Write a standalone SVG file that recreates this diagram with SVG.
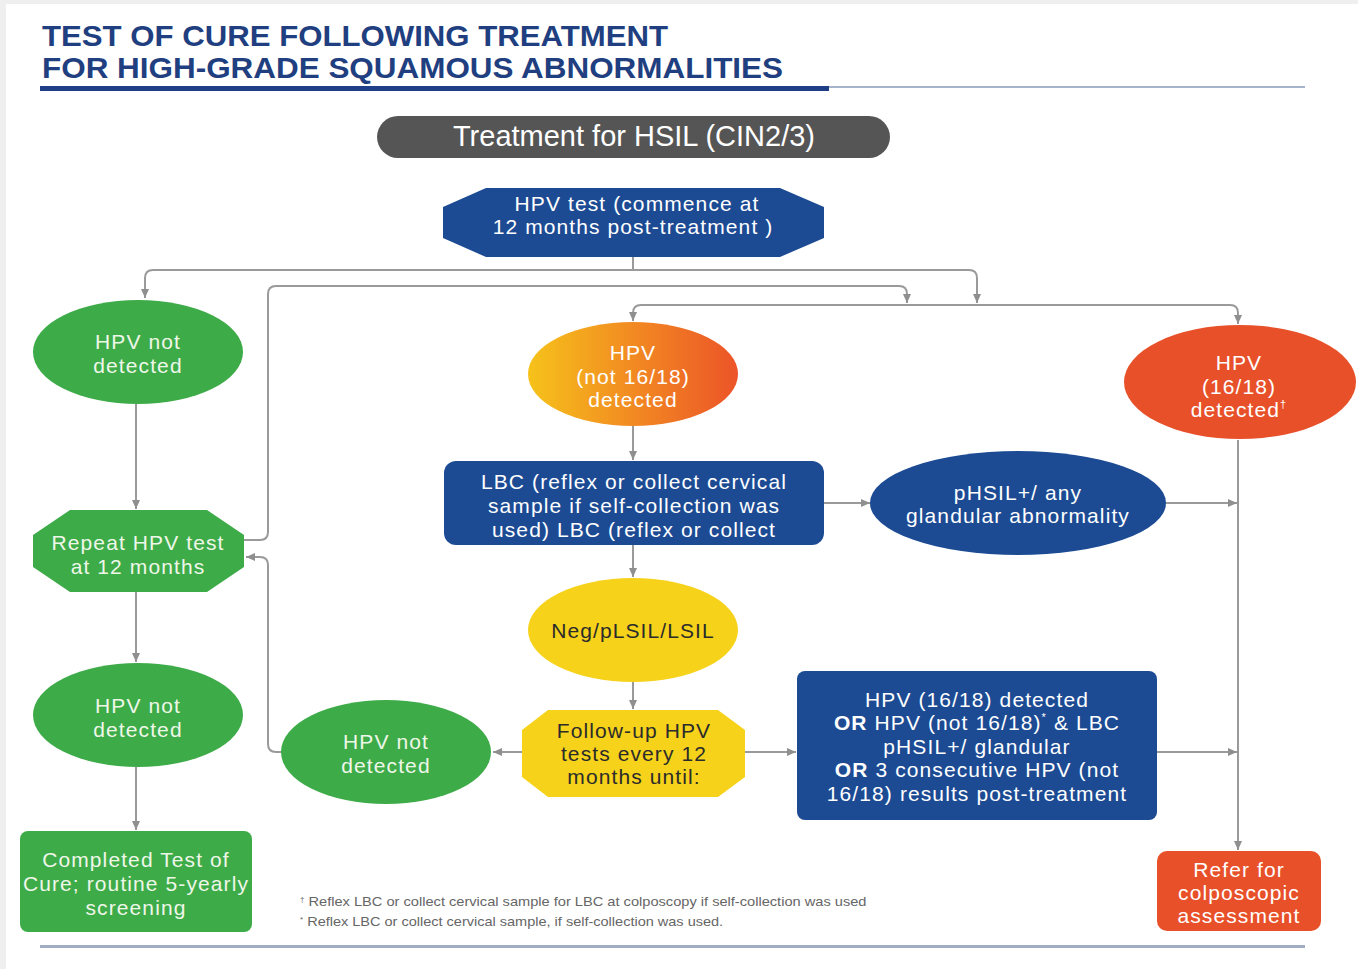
<svg xmlns="http://www.w3.org/2000/svg" width="1358" height="969" viewBox="0 0 1358 969">
<defs>
<marker id="arr" markerUnits="userSpaceOnUse" markerWidth="10" markerHeight="10" refX="9" refY="5" orient="auto">
<path d="M0,1 L9,5 L0,9 z" fill="#8f8f8f"/>
</marker>
<linearGradient id="og" x1="0" y1="0" x2="1" y2="0">
<stop offset="0" stop-color="#f6c21a"/>
<stop offset="0.5" stop-color="#f28a22"/>
<stop offset="1" stop-color="#ec5428"/>
</linearGradient>
<style>
text{font-family:"Liberation Sans",Arial,sans-serif;text-anchor:middle}
.w,.g,.d{font-size:21px;letter-spacing:1.1px}
.w{fill:#ffffff}
.g{fill:#eef7e8}
.d{fill:#2b2b2b}
.blue{fill:#1c4b94}
.green{fill:#3eab49}
.red{fill:#e8502a}
.yel{fill:#f6d21a}
.c{fill:none;stroke:#9a9a9a;stroke-width:2;marker-end:url(#arr)}
.cn{fill:none;stroke:#9a9a9a;stroke-width:2}
.fn{font-size:13px;fill:#666;text-anchor:start}
.t{text-anchor:start;font-size:30px;font-weight:bold;fill:#1f3f80}
</style>
</defs>
<rect x="0" y="0" width="1358" height="969" fill="#efefef"/>
<rect x="6" y="4" width="1352" height="965" fill="#ffffff"/>

<g id="title">
<text class="t" x="42" y="46" textLength="626" lengthAdjust="spacingAndGlyphs">TEST OF CURE FOLLOWING TREATMENT</text>
<text class="t" x="42" y="78" textLength="741" lengthAdjust="spacingAndGlyphs">FOR HIGH-GRADE SQUAMOUS ABNORMALITIES</text>
<rect x="40" y="86" width="789" height="5" fill="#1e3f86"/>
<rect x="829" y="86" width="476" height="2" fill="#a6b4c9"/>
</g>

<g id="connectors">
<path class="cn" d="M633,257 V270"/>
<path class="c" d="M633,270 H153 Q145,270 145,278 V298"/>
<path class="c" d="M633,270 H969 Q977,270 977,278 V303"/>
<path class="c" d="M244,540 H260 Q268,540 268,532 V294 Q268,286 276,286 H899 Q907,286 907,294 V303"/>
<path class="c" d="M1000,305 H641 Q633,305 633,313 V321"/>
<path class="c" d="M1000,305 H1230 Q1238,305 1238,313 V324"/>
<path class="c" d="M136,404 V509"/>
<path class="c" d="M136,592 V662"/>
<path class="c" d="M136,767 V830"/>
<path class="c" d="M633,426 V460"/>
<path class="c" d="M824,503 H870"/>
<path class="c" d="M1166,503 H1237"/>
<path class="c" d="M1238,440 V850"/>
<path class="c" d="M633,545 V577"/>
<path class="c" d="M633,682 V709"/>
<path class="c" d="M522,752 H493"/>
<path class="c" d="M745,752 H796"/>
<path class="c" d="M1157,752 H1237"/>
<path class="c" d="M281,752 H276 Q268,752 268,744 V565 Q268,557 260,557 H246"/>
</g>

<g id="treatment">
<rect x="377" y="116" width="513" height="42" rx="21" fill="#555555"/>
<text x="634" y="146" style="fill:#ffffff;font-size:29px">Treatment for HSIL (CIN2/3)</text>
</g>

<g id="hpvtest">
<polygon class="blue" points="486,188 780,188 824,207 824,238 780,257 486,257 443,238 443,207"/>
<text class="w" x="637" y="211">HPV test (commence at</text>
<text class="w" x="633" y="234">12 months post-treatment )</text>
</g>

<g id="notdet1">
<ellipse class="green" cx="138" cy="352" rx="105" ry="52"/>
<text class="g" x="138" y="349">HPV not</text>
<text class="g" x="138" y="373">detected</text>
</g>

<g id="repeat">
<polygon class="green" points="70,510 207,510 244,535 244,567 207,592 70,592 33,567 33,535"/>
<text class="g" x="138" y="550">Repeat HPV test</text>
<text class="g" x="138" y="574">at 12 months</text>
</g>

<g id="notdet2">
<ellipse class="green" cx="138" cy="715" rx="105" ry="52"/>
<text class="g" x="138" y="713">HPV not</text>
<text class="g" x="138" y="737">detected</text>
</g>

<g id="completed">
<rect class="green" x="20" y="831" width="232" height="101" rx="8"/>
<text class="g" x="136" y="867">Completed Test of</text>
<text class="g" x="136" y="891">Cure; routine 5-yearly</text>
<text class="g" x="136" y="915">screening</text>
</g>

<g id="hpvnot1618">
<ellipse cx="633" cy="374" rx="105" ry="52" fill="url(#og)"/>
<text class="w" x="633" y="360">HPV</text>
<text class="w" x="633" y="384">(not 16/18)</text>
<text class="w" x="633" y="407">detected</text>
</g>

<g id="lbc">
<rect class="blue" x="444" y="461" width="380" height="84" rx="12"/>
<text class="w" x="634" y="489">LBC (reflex or collect cervical</text>
<text class="w" x="634" y="513">sample if self-collection was</text>
<text class="w" x="634" y="537">used) LBC (reflex or collect</text>
</g>

<g id="phsil">
<ellipse class="blue" cx="1018" cy="503" rx="148" ry="52"/>
<text class="w" x="1018" y="500">pHSIL+/ any</text>
<text class="w" x="1018" y="523">glandular abnormality</text>
</g>

<g id="hpv1618">
<ellipse class="red" cx="1240" cy="382" rx="116" ry="57"/>
<text class="w" x="1239" y="370">HPV</text>
<text class="w" x="1239" y="394">(16/18)</text>
<text class="w" x="1239" y="417">detected<tspan dy="-9" style="font-size:11px">†</tspan></text>
</g>

<g id="neg">
<ellipse class="yel" cx="633" cy="630" rx="105" ry="52"/>
<text class="d" x="633" y="638">Neg/pLSIL/LSIL</text>
</g>

<g id="followup">
<polygon class="yel" points="548,710 718,710 745,730 745,777 718,797 548,797 522,777 522,730"/>
<text class="d" x="634" y="738">Follow-up HPV</text>
<text class="d" x="634" y="761">tests every 12</text>
<text class="d" x="634" y="784">months until:</text>
</g>

<g id="notdet3">
<ellipse class="green" cx="386" cy="752" rx="105" ry="52"/>
<text class="g" x="386" y="749">HPV not</text>
<text class="g" x="386" y="773">detected</text>
</g>

<g id="criteria">
<rect class="blue" x="797" y="671" width="360" height="149" rx="8"/>
<text class="w" x="977" y="707">HPV (16/18) detected</text>
<text class="w" x="977" y="730"><tspan font-weight="bold">OR</tspan> HPV (not 16/18)<tspan dy="-9" style="font-size:11px">*</tspan><tspan dy="9"> &amp; LBC</tspan></text>
<text class="w" x="977" y="754">pHSIL+/ glandular</text>
<text class="w" x="977" y="777"><tspan font-weight="bold">OR</tspan> 3 consecutive HPV (not</text>
<text class="w" x="977" y="801">16/18) results post-treatment</text>
</g>

<g id="refer">
<rect class="red" x="1157" y="851" width="164" height="80" rx="10"/>
<text class="w" x="1239" y="877">Refer for</text>
<text class="w" x="1239" y="900">colposcopic</text>
<text class="w" x="1239" y="923">assessment</text>
</g>

<g id="footnotes">
<text class="fn" x="300" y="906"><tspan style="font-size:8px" dy="-4">†</tspan><tspan dy="4" textLength="562" lengthAdjust="spacingAndGlyphs"> Reflex LBC or collect cervical sample for LBC at colposcopy if self-collection was used</tspan></text>
<text class="fn" x="300" y="926"><tspan style="font-size:8px" dy="-4">*</tspan><tspan dy="4" textLength="420" lengthAdjust="spacingAndGlyphs"> Reflex LBC or collect cervical sample, if self-collection was used.</tspan></text>
<rect x="40" y="945" width="1265" height="3" fill="#a0adc2"/>
</g>
</svg>
